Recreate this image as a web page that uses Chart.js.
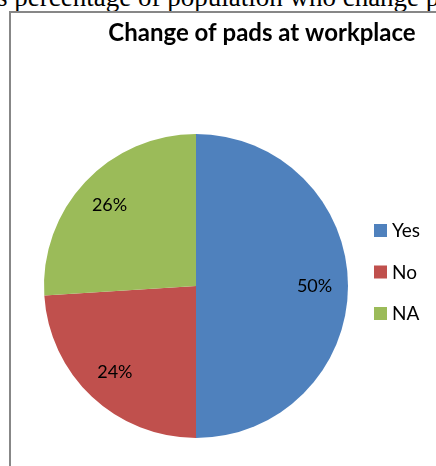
<!DOCTYPE html>
<html>
<head>
<meta charset="utf-8">
<script src="https://cdn.jsdelivr.net/npm/chart.js@4"></script>
<style>
  body { margin: 0; background: #fff; width: 436px; height: 466px; overflow: hidden; position: relative; }
  #caption { position: absolute; left: -3px; top: -18px; font-family: "Liberation Serif", serif; font-size: 27px; color: #000; white-space: nowrap; }
  #frame { position: absolute; left: 9px; top: 11px; width: 500px; height: 500px; border: 2px solid #878787; }
  #myChart { position: absolute; left: 0; top: 0; }
</style>
</head>
<body>
<div id="caption">s percentage of population who change p</div>
<div id="frame"></div>
<canvas id="myChart" width="436" height="466"></canvas>
<script>
const labels = ["Yes", "No", "NA"];
const values = [50, 24, 26];
const colors = ["#4F81BD", "#C0504D", "#9BBB59"];
const title = "Change of pads at workplace";

// title, legend and percent labels drawn by hand
const extras = {
  id: "extras",
  afterDraw(chart) {
    const c = chart.ctx;
    c.save();
    c.fillStyle = "#000";
    c.font = "bold 24px Lato, sans-serif";
    c.textAlign = "center";
    c.textBaseline = "middle";
    c.fillText(title, 262, 33);

    // percent labels
    c.font = "18px Lato, sans-serif";
    const meta = chart.getDatasetMeta(0);
    meta.data.forEach((arc, i) => {
      const mid = (arc.startAngle + arc.endAngle) / 2;
      const r = arc.outerRadius * 0.78;
      c.fillText(values[i] + "%", arc.x + Math.cos(mid) * r, arc.y + Math.sin(mid) * r);
    });

    // legend
    c.textAlign = "left";
    c.font = "19px Lato, sans-serif";
    labels.forEach((lab, i) => {
      const y = 230 + i * 41.5;
      c.fillStyle = colors[i];
      c.fillRect(374, y - 6, 13, 13);
      c.fillStyle = "#000";
      c.fillText(lab, 392, y + 1);
    });
    c.restore();
  }
};

new Chart(document.getElementById("myChart"), {
  type: "pie",
  data: {
    labels: labels,
    datasets: [
      {
        data: values,
        backgroundColor: colors,
        borderWidth: 0,
      },
    ],
  },
  options: {
    responsive: false,
    animation: false,
    layout: {
      padding: { left: 44, right: 88, top: 134, bottom: 28 },
    },
    plugins: {
      legend: { display: false },
      title: { display: false },
      tooltip: { enabled: false },
    },
  },
  plugins: [extras],
});
</script>
</body>
</html>
